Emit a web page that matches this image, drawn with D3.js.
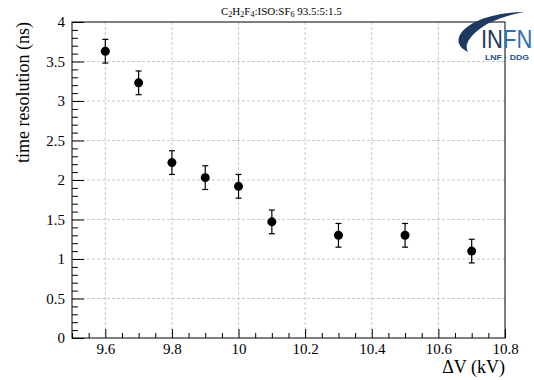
<!DOCTYPE html>
<html><head><meta charset="utf-8">
<script src="https://cdn.jsdelivr.net/npm/d3@7"></script>
<style>body{margin:0;background:#fff}svg{display:block}</style>
</head><body>
<svg id="c" width="534" height="380"></svg>
<script>
const voltages = [9.6, 9.7, 9.8, 9.9, 10.0, 10.1, 10.3, 10.5, 10.7];
const resolution = [3.63, 3.23, 2.22, 2.03, 1.92, 1.47, 1.30, 1.30, 1.10];
const errors = [0.15, 0.15, 0.15, 0.15, 0.15, 0.15, 0.15, 0.15, 0.15];
const xTicks = [9.6, 9.8, 10.0, 10.2, 10.4, 10.6, 10.8];
const yTicks = [0, 0.5, 1, 1.5, 2, 2.5, 3, 3.5, 4];

const SERIF = '"Liberation Serif", "Times New Roman", serif';
const SANS = '"Liberation Sans", Arial, sans-serif';
const svg = d3.select("#c");
const L = 72, R = 505, T = 22, B = 338;
const x = d3.scaleLinear().domain([9.5, 10.8]).range([L, R]);
const y = d3.scaleLinear().domain([0, 4]).range([B, T]);

// grid
const g = svg.append("g");
g.selectAll(".gx").data(xTicks.filter(v => v < 10.8)).enter().append("line")
  .attr("x1", d => x(d)).attr("x2", d => x(d)).attr("y1", T).attr("y2", B)
  .attr("stroke", "#c8c8c8").attr("stroke-dasharray", "3,2").attr("stroke-width", 1);
g.selectAll(".gy").data(yTicks.filter(v => v > 0 && v < 4)).enter().append("line")
  .attr("x1", L).attr("x2", R).attr("y1", d => y(d)).attr("y2", d => y(d))
  .attr("stroke", "#c8c8c8").attr("stroke-dasharray", "3,2").attr("stroke-width", 1);

// frame
svg.append("rect").attr("x", L).attr("y", T).attr("width", R - L).attr("height", B - T)
  .attr("fill", "none").attr("stroke", "#000").attr("stroke-width", 1);

// x axis ticks (inward)
svg.append("g").attr("transform", `translate(0,${B})`)
  .call(d3.axisTop(x).tickValues(xTicks).tickSize(9).tickFormat(""))
  .call(s => s.select(".domain").remove());
const xMinor = d3.range(0, 27).map(i => 9.5 + i * 0.05).filter(v => !xTicks.some(t => Math.abs(t - v) < 1e-6));
svg.append("g").attr("transform", `translate(0,${B})`)
  .call(d3.axisTop(x).tickValues(xMinor).tickSize(5).tickFormat(""))
  .call(s => s.select(".domain").remove());
svg.append("g").attr("transform", `translate(0,${B})`)
  .call(d3.axisBottom(x).tickValues(xTicks).tickSize(0).tickPadding(5).tickFormat(d => d3.format("")(+d.toFixed(1))))
  .call(s => s.select(".domain").remove())
  .selectAll("text").attr("font-size", 15).style("font-family", SERIF).attr("fill", "#000");

// y axis ticks (inward)
svg.append("g").attr("transform", `translate(${L},0)`)
  .call(d3.axisRight(y).tickValues(yTicks).tickSize(12).tickFormat(""))
  .call(s => s.select(".domain").remove());
const yMinor = d3.range(0, 41).map(i => i * 0.1).filter(v => !yTicks.some(t => Math.abs(t - v) < 1e-6));
svg.append("g").attr("transform", `translate(${L},0)`)
  .call(d3.axisRight(y).tickValues(yMinor).tickSize(6).tickFormat(""))
  .call(s => s.select(".domain").remove());
svg.append("g").attr("transform", `translate(${L},0)`)
  .call(d3.axisLeft(y).tickValues(yTicks).tickSize(0).tickPadding(7).tickFormat(d => d3.format("")(d)))
  .call(s => s.select(".domain").remove())
  .selectAll("text").attr("font-size", 15).style("font-family", SERIF).attr("fill", "#000");

// axis titles
svg.append("text").attr("x", 505).attr("y", 373).attr("text-anchor", "end")
  .attr("font-size", 18).style("font-family", SERIF).text("ΔV (kV)");
svg.append("text").attr("transform", "translate(29,22) rotate(-90)").attr("text-anchor", "end")
  .attr("font-size", 18).style("font-family", SERIF).text("time resolution (ns)");

// title with subscripts
const parts = [["C",0],["2",1],["H",0],["2",1],["F",0],["4",1],[":ISO:SF",0],["6",1],[" 93.5:5:1.5",0]];
const tt = svg.append("text").attr("x", 221).attr("y", 15).attr("font-size", 11).style("font-family", SERIF);
parts.forEach(([t, sub]) => {
  tt.append("tspan").text(t).attr("font-size", sub ? 8 : 11).attr("baseline-shift", sub ? "-25%" : null);
});

// error bars
const pts = voltages.map((v, i) => ({v, r: resolution[i], e: errors[i]}));
const eb = svg.append("g").attr("stroke", "#000").attr("stroke-width", 1.2);
eb.selectAll(".v").data(pts).enter().append("line")
  .attr("x1", d => x(d.v)).attr("x2", d => x(d.v)).attr("y1", d => y(d.r + d.e)).attr("y2", d => y(d.r - d.e));
eb.selectAll(".t").data(pts).enter().append("line")
  .attr("x1", d => x(d.v) - 3).attr("x2", d => x(d.v) + 3).attr("y1", d => y(d.r + d.e)).attr("y2", d => y(d.r + d.e));
eb.selectAll(".b").data(pts).enter().append("line")
  .attr("x1", d => x(d.v) - 3).attr("x2", d => x(d.v) + 3).attr("y1", d => y(d.r - d.e)).attr("y2", d => y(d.r - d.e));
svg.append("g").selectAll("circle").data(pts).enter().append("circle")
  .attr("cx", d => x(d.v)).attr("cy", d => y(d.r)).attr("r", 4.5).attr("fill", "#000");

// INFN logo
const logo = svg.append("g");
logo.append("path")
  .attr("d", "M468,52 C453,45 456,32 475,22 C490,15 508,12 524,12 C508,15 492,20 481,28 C469,37 464,45 468,52 Z")
  .attr("fill", "#1d3a63");
logo.append("text").attr("transform", "translate(481,48) scale(1,1.15)").attr("font-size", 22).attr("fill", "#1d3a63")
  .style("font-family", SANS).text("IN");
logo.append("text").attr("transform", "translate(503,48) scale(1,1.15)").attr("font-size", 22).attr("fill", "#2f6fad")
  .style("font-family", SANS).text("FN");
logo.append("text").attr("x", 485).attr("y", 60).attr("font-size", 8).attr("font-weight", "bold")
  .style("font-family", SANS).attr("fill", "#24508a").attr("textLength", 44).attr("lengthAdjust", "spacingAndGlyphs").text("LNF · DDG");
</script>
</body></html>
